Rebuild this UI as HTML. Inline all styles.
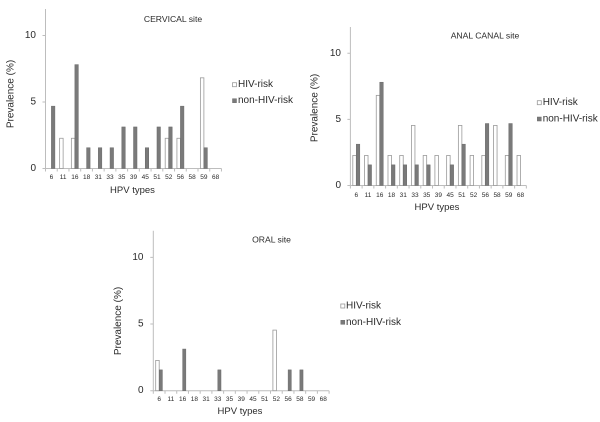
<!DOCTYPE html>
<html><head><meta charset="utf-8"><style>
html,body{margin:0;padding:0;background:#fff;}
svg{display:block;}
text{font-family:"Liberation Sans",sans-serif;fill:#2a2a2a;}
.ax{stroke:#bdbdbd;stroke-width:1;fill:none;}
.w{fill:#fff;stroke:#9a9a9a;stroke-width:0.8;}
.d{fill:#7a7a7a;stroke:#6a6a6a;stroke-width:0.5;}
.xt{font-size:6.5px;text-anchor:middle;dominant-baseline:central;}
.yt{font-size:10px;text-anchor:end;dominant-baseline:central;}
.ti{font-size:8.6px;text-anchor:middle;dominant-baseline:central;}
.lg{font-size:10px;dominant-baseline:central;}
.xl{font-size:9.5px;text-anchor:middle;dominant-baseline:central;}
.yl{font-size:10px;text-anchor:middle;dominant-baseline:central;}
</style></head><body>
<svg width="600" height="422" viewBox="0 0 600 422" xmlns="http://www.w3.org/2000/svg">

<!-- ===== CERVICAL ===== -->
<g>
<text class="ti" x="173" y="19">CERVICAL site</text>
<line class="ax" x1="45.5" y1="9" x2="45.5" y2="168.5"/>
<line class="ax" x1="45.5" y1="168.5" x2="221.5" y2="168.5"/>
<path class="ax" d="M42.5 168.5H45.5M42.5 102H45.5M42.5 35.5H45.5"/>
<path class="ax" d="M45.5 168.5v3M57.23 168.5v3M68.96 168.5v3M80.69 168.5v3M92.42 168.5v3M104.15 168.5v3M115.88 168.5v3M127.61 168.5v3M139.34 168.5v3M151.07 168.5v3M162.8 168.5v3M174.53 168.5v3M186.26 168.5v3M197.99 168.5v3M209.72 168.5v3M221.45 168.5v3"/>
<text class="yt" x="36" y="35.5">10</text>
<text class="yt" x="36" y="102">5</text>
<text class="yt" x="36" y="168.5">0</text>
<!-- white -->
<rect class="w" x="59.63" y="138.27" width="3.5" height="30.23"/>
<rect class="w" x="71.36" y="138.27" width="3.5" height="30.23"/>
<rect class="w" x="165.2" y="138.27" width="3.5" height="30.23"/>
<rect class="w" x="176.93" y="138.27" width="3.5" height="30.23"/>
<rect class="w" x="200.39" y="77.82" width="3.5" height="90.68"/>
<!-- dark -->
<rect class="d" x="51.4" y="106.16" width="3.5" height="62.34"/>
<rect class="d" x="74.86" y="64.6" width="3.5" height="103.9"/>
<rect class="d" x="86.59" y="147.72" width="3.5" height="20.78"/>
<rect class="d" x="98.32" y="147.72" width="3.5" height="20.78"/>
<rect class="d" x="110.05" y="147.72" width="3.5" height="20.78"/>
<rect class="d" x="121.78" y="126.94" width="3.5" height="41.56"/>
<rect class="d" x="133.51" y="126.94" width="3.5" height="41.56"/>
<rect class="d" x="145.24" y="147.72" width="3.5" height="20.78"/>
<rect class="d" x="156.97" y="126.94" width="3.5" height="41.56"/>
<rect class="d" x="168.7" y="126.94" width="3.5" height="41.56"/>
<rect class="d" x="180.43" y="106.16" width="3.5" height="62.34"/>
<rect class="d" x="203.89" y="147.72" width="3.5" height="20.78"/>
<g class="xt">
<text class="xt" x="51.4" y="177.5">6</text><text class="xt" x="63.13" y="177.5">11</text><text class="xt" x="74.86" y="177.5">16</text><text class="xt" x="86.59" y="177.5">18</text><text class="xt" x="98.32" y="177.5">31</text><text class="xt" x="110.05" y="177.5">33</text><text class="xt" x="121.78" y="177.5">35</text><text class="xt" x="133.51" y="177.5">39</text><text class="xt" x="145.24" y="177.5">45</text><text class="xt" x="156.97" y="177.5">51</text><text class="xt" x="168.7" y="177.5">52</text><text class="xt" x="180.43" y="177.5">56</text><text class="xt" x="192.16" y="177.5">58</text><text class="xt" x="203.89" y="177.5">59</text><text class="xt" x="215.62" y="177.5">68</text>
</g>
<text class="xl" x="132.5" y="190.7">HPV types</text>
<text class="yl" transform="translate(11,94) rotate(-90)">Prevalence (%)</text>
<rect class="w" x="232.5" y="82.7" width="4" height="4"/>
<text class="lg" x="238" y="84.7">HIV-risk</text>
<rect class="d" x="232.5" y="98.7" width="4" height="4"/>
<text class="lg" x="238" y="100.7">non-HIV-risk</text>
</g>

<!-- ===== ANAL CANAL ===== -->
<g>
<text class="ti" x="485" y="35.7">ANAL CANAL site</text>
<line class="ax" x1="350.4" y1="27" x2="350.4" y2="185.5"/>
<line class="ax" x1="350.4" y1="185.5" x2="526.4" y2="185.5"/>
<path class="ax" d="M347.4 185.5H350.4M347.4 119.4H350.4M347.4 53.3H350.4"/>
<path class="ax" d="M350.4 185.5v3M362.13 185.5v3M373.86 185.5v3M385.59 185.5v3M397.32 185.5v3M409.05 185.5v3M420.78 185.5v3M432.51 185.5v3M444.24 185.5v3M455.97 185.5v3M467.7 185.5v3M479.43 185.5v3M491.16 185.5v3M502.89 185.5v3M514.62 185.5v3M526.35 185.5v3"/>
<text class="yt" x="341" y="53.3">10</text>
<text class="yt" x="341" y="119.4">5</text>
<text class="yt" x="341" y="185.5">0</text>
<!-- white -->
<rect class="w" x="352.8" y="155.45" width="3.5" height="30.05"/>
<rect class="w" x="364.53" y="155.45" width="3.5" height="30.05"/>
<rect class="w" x="376.26" y="95.36" width="3.5" height="90.14"/>
<rect class="w" x="387.99" y="155.45" width="3.5" height="30.05"/>
<rect class="w" x="399.72" y="155.45" width="3.5" height="30.05"/>
<rect class="w" x="411.45" y="125.41" width="3.5" height="60.09"/>
<rect class="w" x="423.18" y="155.45" width="3.5" height="30.05"/>
<rect class="w" x="434.91" y="155.45" width="3.5" height="30.05"/>
<rect class="w" x="446.64" y="155.45" width="3.5" height="30.05"/>
<rect class="w" x="458.37" y="125.41" width="3.5" height="60.09"/>
<rect class="w" x="470.1" y="155.45" width="3.5" height="30.05"/>
<rect class="w" x="481.83" y="155.45" width="3.5" height="30.05"/>
<rect class="w" x="493.56" y="125.41" width="3.5" height="60.09"/>
<rect class="w" x="505.29" y="155.45" width="3.5" height="30.05"/>
<rect class="w" x="517.02" y="155.45" width="3.5" height="30.05"/>
<!-- dark -->
<rect class="d" x="356.3" y="144.19" width="3.5" height="41.31"/>
<rect class="d" x="368.03" y="164.84" width="3.5" height="20.66"/>
<rect class="d" x="379.76" y="82.22" width="3.5" height="103.28"/>
<rect class="d" x="391.49" y="164.84" width="3.5" height="20.66"/>
<rect class="d" x="403.22" y="164.84" width="3.5" height="20.66"/>
<rect class="d" x="414.95" y="164.84" width="3.5" height="20.66"/>
<rect class="d" x="426.68" y="164.84" width="3.5" height="20.66"/>
<rect class="d" x="450.14" y="164.84" width="3.5" height="20.66"/>
<rect class="d" x="461.87" y="144.19" width="3.5" height="41.31"/>
<rect class="d" x="485.33" y="123.53" width="3.5" height="61.97"/>
<rect class="d" x="508.79" y="123.53" width="3.5" height="61.97"/>
<text class="xt" x="356.3" y="195.5">6</text><text class="xt" x="368.03" y="195.5">11</text><text class="xt" x="379.76" y="195.5">16</text><text class="xt" x="391.49" y="195.5">18</text><text class="xt" x="403.22" y="195.5">31</text><text class="xt" x="414.95" y="195.5">33</text><text class="xt" x="426.68" y="195.5">35</text><text class="xt" x="438.41" y="195.5">39</text><text class="xt" x="450.14" y="195.5">45</text><text class="xt" x="461.87" y="195.5">51</text><text class="xt" x="473.6" y="195.5">52</text><text class="xt" x="485.33" y="195.5">56</text><text class="xt" x="497.06" y="195.5">58</text><text class="xt" x="508.79" y="195.5">59</text><text class="xt" x="520.52" y="195.5">68</text>
<text class="xl" x="437" y="207.5">HPV types</text>
<text class="yl" transform="translate(315,108) rotate(-90)">Prevalence (%)</text>
<rect class="w" x="537.3" y="100.7" width="4" height="4"/>
<text class="lg" x="542.7" y="102.7">HIV-risk</text>
<rect class="d" x="537.3" y="117" width="4" height="4"/>
<text class="lg" x="542.7" y="119">non-HIV-risk</text>
</g>

<!-- ===== ORAL ===== -->
<g>
<text class="ti" x="271.5" y="239.3">ORAL site</text>
<line class="ax" x1="153.3" y1="230.7" x2="153.3" y2="390.7"/>
<line class="ax" x1="153.3" y1="390.7" x2="329.1" y2="390.7"/>
<path class="ax" d="M150.3 390.7H153.3M150.3 324H153.3M150.3 257.4H153.3"/>
<path class="ax" d="M153.3 390.7v3M165.02 390.7v3M176.74 390.7v3M188.46 390.7v3M200.18 390.7v3M211.9 390.7v3M223.62 390.7v3M235.34 390.7v3M247.06 390.7v3M258.78 390.7v3M270.5 390.7v3M282.22 390.7v3M293.94 390.7v3M305.66 390.7v3M317.38 390.7v3M329.1 390.7v3"/>
<text class="yt" x="143.5" y="257.4">10</text>
<text class="yt" x="143.5" y="324">5</text>
<text class="yt" x="143.5" y="390.7">0</text>
<rect class="w" x="155.7" y="360.4" width="3.5" height="30.3"/>
<rect class="w" x="272.9" y="330.1" width="3.5" height="60.6"/>
<rect class="d" x="159.2" y="369.87" width="3.2" height="20.83"/>
<rect class="d" x="182.64" y="349.04" width="3.2" height="41.66"/>
<rect class="d" x="217.8" y="369.87" width="3.2" height="20.83"/>
<rect class="d" x="288.12" y="369.87" width="3.2" height="20.83"/>
<rect class="d" x="299.84" y="369.87" width="3.2" height="20.83"/>
<text class="xt" x="159.2" y="399.5">6</text><text class="xt" x="170.92" y="399.5">11</text><text class="xt" x="182.64" y="399.5">16</text><text class="xt" x="194.36" y="399.5">18</text><text class="xt" x="206.08" y="399.5">31</text><text class="xt" x="217.8" y="399.5">33</text><text class="xt" x="229.52" y="399.5">35</text><text class="xt" x="241.24" y="399.5">39</text><text class="xt" x="252.96" y="399.5">45</text><text class="xt" x="264.68" y="399.5">51</text><text class="xt" x="276.4" y="399.5">52</text><text class="xt" x="288.12" y="399.5">56</text><text class="xt" x="299.84" y="399.5">58</text><text class="xt" x="311.56" y="399.5">59</text><text class="xt" x="323.28" y="399.5">68</text>
<text class="xl" x="240" y="411.7">HPV types</text>
<text class="yl" transform="translate(118.3,321) rotate(-90)">Prevalence (%)</text>
<rect class="w" x="340.8" y="304" width="4" height="4"/>
<text class="lg" x="346" y="306">HIV-risk</text>
<rect class="d" x="340.8" y="320.3" width="4" height="4"/>
<text class="lg" x="346" y="322.3">non-HIV-risk</text>
</g>
</svg>
</body></html>
